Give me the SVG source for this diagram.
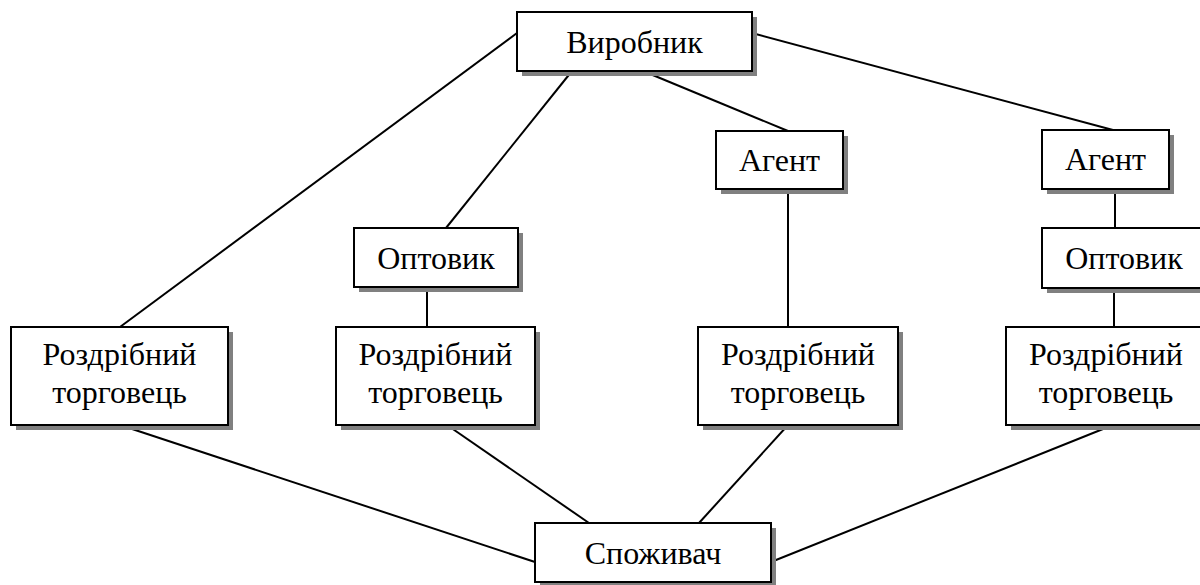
<svg xmlns="http://www.w3.org/2000/svg" width="1200" height="585" viewBox="0 0 1200 585">
<style>
.box{fill:#fff;stroke:#000;stroke-width:2}
.sh{fill:#808080}
.t{font-size:32px;text-anchor:middle;fill:#000}
.c line{stroke:#000;stroke-width:2}
</style>
<rect width="1200" height="585" fill="#fff"/>
<g class="c" id="connectors">
<line x1="517" y1="33" x2="120" y2="327"/>
<line x1="572" y1="71" x2="446" y2="228"/>
<line x1="643" y1="71" x2="788" y2="131"/>
<line x1="752" y1="33" x2="1113" y2="130"/>
<line x1="1115" y1="189" x2="1115" y2="228"/>
<line x1="1114" y1="288" x2="1114" y2="327"/>
<line x1="427" y1="287" x2="427" y2="327"/>
<line x1="788" y1="189" x2="788" y2="327"/>
<line x1="120" y1="425" x2="535" y2="562"/>
<line x1="447" y1="425" x2="589" y2="523"/>
<line x1="788" y1="425" x2="699" y2="523"/>
<line x1="1113" y1="425" x2="771" y2="562"/>
</g>
<g font-family="Liberation Serif, DejaVu Serif, serif">
<g id="vyrobnyk">
<rect class="sh" x="522" y="17" width="235" height="59"/>
<rect class="box" x="517" y="12" width="235" height="59"/>
<text class="t" x="634.5" y="53">Виробник</text>
</g>
<g id="agent1">
<rect class="sh" x="721" y="136" width="127" height="58"/>
<rect class="box" x="716" y="131" width="127" height="58"/>
<text class="t" x="779.5" y="171">Агент</text>
</g>
<g id="agent2">
<rect class="sh" x="1047" y="135" width="127" height="59"/>
<rect class="box" x="1042" y="130" width="127" height="59"/>
<text class="t" x="1105.5" y="170">Агент</text>
</g>
<g id="optovyk1">
<rect class="sh" x="359" y="233" width="164" height="59"/>
<rect class="box" x="354" y="228" width="164" height="59"/>
<text class="t" x="436" y="269">Оптовик</text>
</g>
<g id="optovyk2">
<rect class="sh" x="1047" y="233" width="164" height="60"/>
<rect class="box" x="1042" y="228" width="164" height="60"/>
<text class="t" x="1124" y="269">Оптовик</text>
</g>
<g id="retail1">
<rect class="sh" x="16" y="332" width="217" height="98"/>
<rect class="box" x="11" y="327" width="217" height="98"/>
<text class="t" x="119.5" y="365">Роздрібний</text>
<text class="t" x="119.5" y="403">торговець</text>
</g>
<g id="retail2">
<rect class="sh" x="341" y="332" width="199" height="98"/>
<rect class="box" x="336" y="327" width="199" height="98"/>
<text class="t" x="435.5" y="365">Роздрібний</text>
<text class="t" x="435.5" y="403">торговець</text>
</g>
<g id="retail3">
<rect class="sh" x="703" y="332" width="200" height="98"/>
<rect class="box" x="698" y="327" width="200" height="98"/>
<text class="t" x="798" y="365">Роздрібний</text>
<text class="t" x="798" y="403">торговець</text>
</g>
<g id="retail4">
<rect class="sh" x="1011" y="332" width="200" height="98"/>
<rect class="box" x="1006" y="327" width="200" height="98"/>
<text class="t" x="1106" y="365">Роздрібний</text>
<text class="t" x="1106" y="403">торговець</text>
</g>
<g id="spozhyvach">
<rect class="sh" x="540" y="528" width="236" height="59"/>
<rect class="box" x="535" y="523" width="236" height="59"/>
<text class="t" x="653" y="564">Споживач</text>
</g>
</g>
</svg>
